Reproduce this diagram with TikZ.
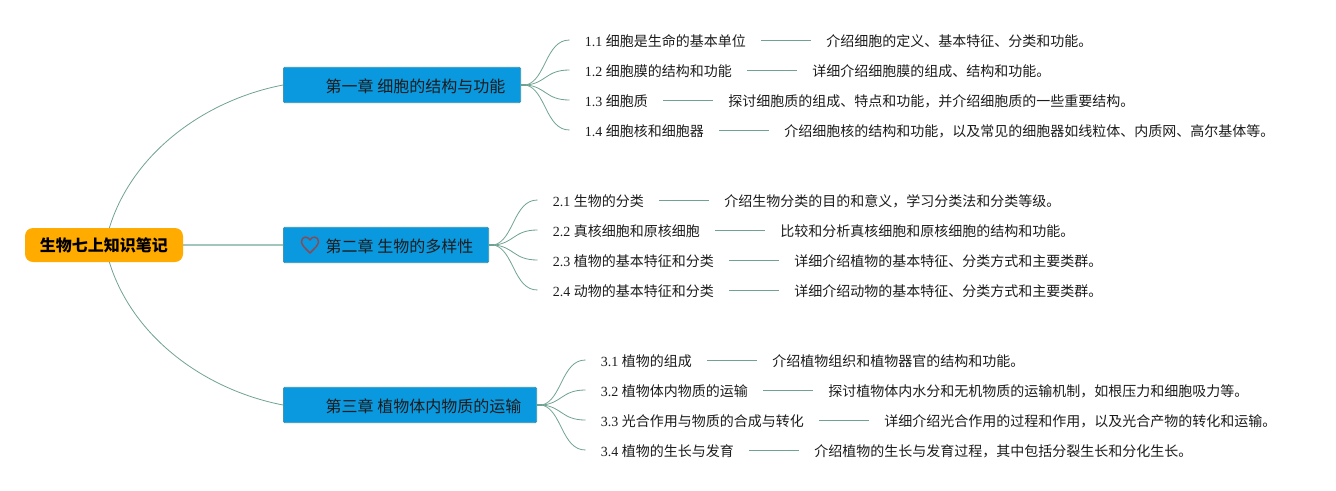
\documentclass[tikz,border=0pt]{standalone}
\usepackage{fontspec}
\setmainfont{Liberation Serif}
\newfontfamily\cjk{Noto Sans CJK SC}
\usetikzlibrary{calc,backgrounds}
\definecolor{linec}{HTML}{A2C6BD}
\definecolor{thinc}{HTML}{6FA294}
\definecolor{stemc}{HTML}{6FA294}
\definecolor{blue}{HTML}{0A98DE}
\definecolor{bord}{HTML}{3E97B0}
\definecolor{orangeb}{HTML}{FFAB00}
\definecolor{txt}{HTML}{1C1C1C}
\definecolor{heartc}{HTML}{8A4A55}
\newcommand{\lb}[2]{#1 {\cjk #2}}
\tikzset{
  x=0.75pt,y=-0.75pt,
  rootbox/.style={fill=orangeb,rounded corners=6pt,inner sep=0pt,minimum width=118.5pt,minimum height=25.5pt,text height=11pt,text depth=1.2pt,font={\cjk\bfseries\fontsize{12pt}{14pt}\selectfont},text=black},
  chap/.style={fill=blue,draw=bord,line width=0.6pt,rounded corners=1pt,anchor=west,inner xsep=11.5pt,inner ysep=0pt,minimum height=26.6pt,text height=12pt,text depth=1.3pt,font={\cjk\fontsize{12pt}{14pt}\selectfont},text=txt},
  leaf/.style={anchor=west,inner xsep=11.25pt,inner ysep=2pt,text height=10.5pt,text depth=1pt,font=\fontsize{10.5pt}{12pt}\selectfont,text=txt},
  conn/.style={draw=thinc,line width=0.7pt},
  midconn/.style={draw=linec,line width=1.1pt},
  thinconn/.style={draw=thinc,line width=0.6pt},
  stem/.style={draw=stemc,line width=1.4pt},
}
\begin{document}
\begin{tikzpicture}
\useasboundingbox (0,0) rectangle (1336,490);
\node[rootbox] (root) at (104,245) {生物七上知识笔记};
\coordinate (rootc) at (105,245);
\node[chap] (c1) at (283,85) {\hspace*{20.25pt}第一章 细胞的结构与功能};
\node[chap] (c2) at (283,245) {\hspace*{20.25pt}第二章 生物的多样性};
\node[chap] (c3) at (283,405) {\hspace*{20.25pt}第三章 植物体内物质的运输};
% heart icon
\draw[draw=heartc,line width=1.1pt,line join=round]
  (310,253) .. controls (305,248) and (301.5,245) .. (301.5,241.5)
  .. controls (301.5,236.5) and (308,235.5) .. (310,240)
  .. controls (312,235.5) and (318.5,236.5) .. (318.5,241.5)
  .. controls (318.5,245) and (315,248) .. (310,253) -- cycle;
% leaves
\node[leaf] (a1) at (569.5,40) {\lb{1.1}{细胞是生命的基本单位}};
\node[leaf] (a2) at (569.5,70) {\lb{1.2}{细胞膜的结构和功能}};
\node[leaf] (a3) at (569.5,100) {\lb{1.3}{细胞质}};
\node[leaf] (a4) at (569.5,130) {\lb{1.4}{细胞核和细胞器}};
\node[leaf] (b1) at (537.5,200) {\lb{2.1}{生物的分类}};
\node[leaf] (b2) at (537.5,230) {\lb{2.2}{真核细胞和原核细胞}};
\node[leaf] (b3) at (537.5,260) {\lb{2.3}{植物的基本特征和分类}};
\node[leaf] (b4) at (537.5,290) {\lb{2.4}{动物的基本特征和分类}};
\node[leaf] (e1) at (585.5,360) {\lb{3.1}{植物的组成}};
\node[leaf] (e2) at (585.5,390) {\lb{3.2}{植物体内物质的运输}};
\node[leaf] (e3) at (585.5,420) {\lb{3.3}{光合作用与物质的合成与转化}};
\node[leaf] (e4) at (585.5,450) {\lb{3.4}{植物的生长与发育}};
\foreach \n/\t in {%
 a1/介绍细胞的定义、基本特征、分类和功能。,
 a2/详细介绍细胞膜的组成、结构和功能。,
 a3/探讨细胞质的组成、特点和功能，并介绍细胞质的一些重要结构。,
 a4/介绍细胞核的结构和功能，以及常见的细胞器如线粒体、内质网、高尔基体等。,
 b1/介绍生物分类的目的和意义，学习分类法和分类等级。,
 b2/比较和分析真核细胞和原核细胞的结构和功能。,
 b3/详细介绍植物的基本特征、分类方式和主要类群。,
 b4/详细介绍动物的基本特征、分类方式和主要类群。,
 e1/介绍植物组织和植物器官的结构和功能。,
 e2/探讨植物体内水分和无机物质的运输机制，如根压力和细胞吸力等。,
 e3/详细介绍光合作用的过程和作用，以及光合产物的转化和运输。,
 e4/介绍植物的生长与发育过程，其中包括分裂生长和分化生长。}{
  \node[leaf] (\n d) at ($(\n.east)+(50,0)$) {\cjk \t};
  \draw[conn] (\n.east) -- (\n d.west);
}
\begin{scope}[on background layer]
  \draw[midconn] (root.east) -- (c2.west);
  \draw[thinconn] (rootc) .. controls +(17,-85) and ($(c1.west)+(-83,16)$) .. (c1.west);
  \draw[thinconn] (rootc) .. controls +(17,85) and ($(c3.west)+(-83,-16)$) .. (c3.west);
  \foreach \c/\p in {c1/a,c2/b,c3/e}{
    \coordinate (h) at ($(\c.east)+(5,0)$);
    \draw[stem] (\c.east) -- (h);
    \foreach \i in {1,2,3,4}{
      \draw[thinconn] (h) .. controls ($(h)!0.11!(h|-\p\i.west)+(20,0)$) and ($(\p\i.west)+(-24,0)$) .. (\p\i.west);
    }
  }
\end{scope}
\end{tikzpicture}
\end{document}
